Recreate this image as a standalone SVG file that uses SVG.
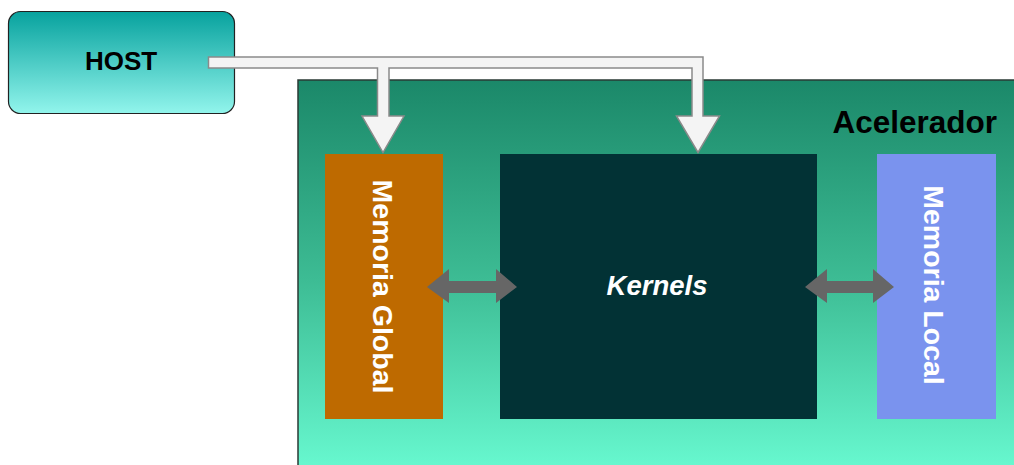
<svg xmlns="http://www.w3.org/2000/svg" width="1014" height="465" viewBox="0 0 1014 465">
<defs>
<linearGradient id="gHost" x1="0" y1="0" x2="0" y2="1">
<stop offset="0" stop-color="#07a29e"/>
<stop offset="1" stop-color="#92f5ec"/>
</linearGradient>
<linearGradient id="gAcc" x1="0" y1="0" x2="0" y2="1">
<stop offset="0" stop-color="#1b8869"/>
<stop offset="0.5" stop-color="#3dbc94"/>
<stop offset="1" stop-color="#6afcd3"/>
</linearGradient>
<style>
.lbl{font-family:"Liberation Sans",Arial,sans-serif;font-weight:bold;}
.dark{fill:#000;}
.light{fill:#fff;}
.dbl{fill:#666666;}
</style>
</defs>
<rect width="1014" height="465" fill="#fff"/>
<g id="acelerador">
<rect x="298" y="80" width="730" height="400" fill="url(#gAcc)" stroke="#2a3a35" stroke-width="1.5"/>
<text class="lbl dark" x="997" y="133" font-size="31.5" text-anchor="end">Acelerador</text>
</g>
<g id="host">
<rect x="8.5" y="11.5" width="226" height="102" rx="12" fill="url(#gHost)" stroke="#222" stroke-width="1.2"/>
<text class="lbl dark" x="121" y="70" font-size="26" text-anchor="middle">HOST</text>
</g>
<g id="memoria-global">
<rect x="325" y="154" width="118" height="265" fill="#be6a00"/>
<text class="lbl light" font-size="28.5" text-anchor="middle" transform="translate(372.5,286.5) rotate(90)">Memoria Global</text>
</g>
<g id="kernels">
<rect x="500" y="154" width="317" height="265" fill="#023235"/>
<text class="lbl light" x="657" y="294.5" font-size="27.5" font-style="italic" text-anchor="middle">Kernels</text>
</g>
<g id="memoria-local">
<rect x="877" y="154" width="119" height="265" fill="#7a93ee"/>
<text class="lbl light" font-size="28.5" text-anchor="middle" transform="translate(923.5,285) rotate(90)">Memoria Local</text>
</g>
<g id="connectors">
<path d="M208.5,57 L703,57 L703,116 L719.5,116 L698,152.5 L676.5,116 L692,116 L692,68 L389,68 L389,116 L404,116 L383,152.5 L362,116 L377.5,116 L377.5,68 L208.5,68 Z" fill="#f4f4f4" stroke="#8a8a8a" stroke-width="1.5" stroke-linejoin="miter"/>
<polygon class="dbl" points="427,287 449,269 449,281 496,281 496,269 517,287 496,303 496,293 449,293 449,303"/>
<polygon class="dbl" points="805,287 827,269 827,281 873,281 873,269 894,287 873,303 873,293 827,293 827,303"/>
</g>
</svg>
